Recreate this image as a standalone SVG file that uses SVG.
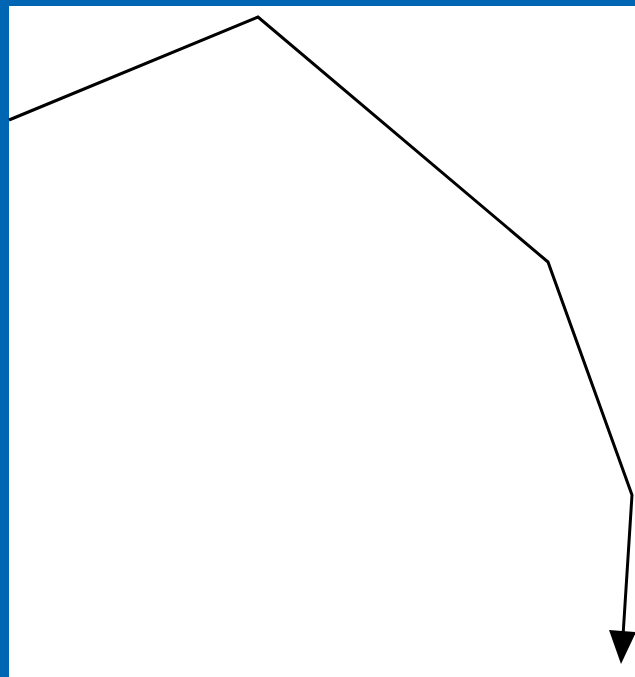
<svg xmlns="http://www.w3.org/2000/svg" width="635" height="677" viewBox="0 0 635 677">
<style>
.edge{fill:none;stroke:#000;stroke-width:3;stroke-linejoin:miter}
.head{fill:#000}
.frame{fill:#0066b3}
</style>
<rect x="0" y="0" width="635" height="677" fill="#fff"/>
<rect class="frame" x="0" y="0" width="9" height="677"/>
<rect class="frame" x="0" y="0" width="635" height="6"/>
<g id="connectors">
<polyline class="edge" points="9,120 258,17 548,262 632,495 623,636"/>
<polygon class="head" points="609,630 636,632 621,664"/>
</g>
</svg>
